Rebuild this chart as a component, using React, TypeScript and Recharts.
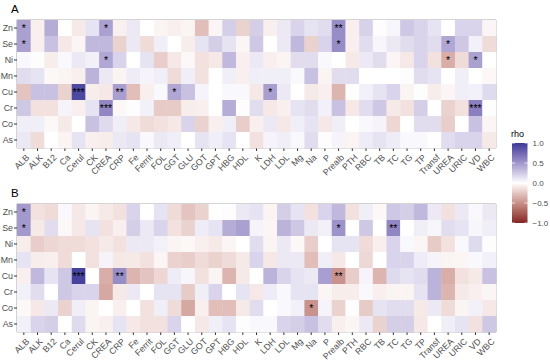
import React from 'react';
import { ScatterChart, Scatter, XAxis, YAxis, ReferenceArea } from 'recharts';

const metals = ['Zn', 'Se', 'Ni', 'Mn', 'Cu', 'Cr', 'Co', 'As'];
const markers = [
  'ALB', 'ALK', 'B12', 'Ca', 'Cerul', 'CK', 'CREA', 'CRP', 'Fe', 'Ferrit', 'FOL', 'GGT',
  'GLU', 'GOT', 'GPT', 'HBG', 'HDL', 'K', 'LDH', 'LDL', 'Mg', 'Na', 'P', 'Prealb', 'PTH',
  'RBC', 'TB', 'TC', 'TG', 'TP', 'Transf', 'UREA', 'URIC', 'VD', 'WBC',
];

// panel A, one row per metal, in marker order
const rhoA = [
  [0.45, -0.07, 0.39, 0, -0.09, 0.13, 0.45, -0.07, 0.1, 0, -0.05, -0.07, -0.05, -0.29, -0.04, 0.23, -0.2, 0.23, -0.07, 0.1, 0.2, 0.13, 0.16, 0.55, -0.07, 0.21, 0.01, 0.04, 0.26, 0.2, 0.13, 0, 0.2, 0.2, -0.04],
  [0.45, -0.07, 0.29, -0.1, -0.04, 0.33, 0.33, -0.2, 0.1, -0.16, 0.08, 0, -0.08, 0.13, 0.23, 0.13, -0.04, 0.26, 0, 0.1, 0.33, -0.2, 0.2, 0.55, -0.07, 0.16, 0.04, 0.1, 0.16, 0.2, 0.16, 0.42, 0.26, 0.07, -0.16],
  [0.03, 0.01, -0.08, 0.03, 0.1, 0.07, 0.42, 0.2, 0, 0.13, -0.22, -0.1, -0.03, -0.13, -0.1, 0.33, -0.07, 0.1, -0.07, -0.05, 0.16, 0.16, 0.03, 0, -0.09, 0.1, 0.16, -0.04, -0.1, 0.2, -0.13, -0.36, -0.16, 0.45, 0],
  [0.16, 0.13, -0.03, -0.05, -0.07, 0.36, 0.1, -0.05, 0.09, 0.05, 0.08, -0.16, 0.08, -0.13, 0, 0.08, -0.07, 0.08, 0.08, 0.08, 0.03, 0.29, -0.05, 0.16, 0.16, 0, 0, 0, 0.01, 0.16, 0.13, 0, 0.08, 0, -0.03],
  [-0.26, 0.29, 0.29, -0.2, 0.92, -0.08, -0.1, 0.46, -0.29, -0.07, 0.03, 0.42, 0.29, 0.05, 0, 0.03, 0.03, -0.1, 0.46, 0.1, 0, -0.09, -0.07, -0.33, 0.01, 0.07, 0.13, 0.2, -0.05, 0.01, -0.08, -0.04, 0.08, 0.07, 0.17],
  [0.26, -0.13, -0.13, 0.05, -0.07, 0.13, 0.58, -0.03, 0.01, 0.07, -0.23, -0.23, -0.08, -0.07, 0, 0.39, 0.01, 0.16, -0.1, -0.07, 0.13, 0.16, 0.07, 0.29, -0.1, 0.16, 0.26, -0.09, -0.13, 0.23, 0, -0.2, -0.13, 0.62, 0.01],
  [0.08, 0.08, -0.03, -0.09, 0, 0.29, 0.17, 0.08, -0.1, -0.16, -0.13, -0.1, 0.2, -0.2, -0.07, 0.08, -0.22, -0.07, 0.1, -0.1, 0.08, 0.13, -0.1, 0.08, 0, 0.03, 0.05, -0.18, 0, 0.16, 0.16, -0.22, 0, 0.29, -0.04],
  [0.1, -0.16, 0, -0.05, 0.13, -0.07, -0.08, 0.1, 0.13, 0.03, 0.1, 0.08, 0, 0.13, 0.08, 0.13, 0, -0.13, 0.05, 0.08, 0.03, 0.16, 0.01, 0.05, -0.05, 0.09, 0.13, 0.09, 0.03, 0.03, 0, 0.16, 0.2, 0.2, -0.09],
];

// panel B
const rhoB = [
  [0.49, -0.13, -0.16, 0.03, -0.1, -0.05, -0.09, -0.13, 0.2, 0, 0.13, -0.16, -0.26, -0.2, 0, 0.01, 0.1, 0.13, -0.05, 0.23, 0.13, -0.13, 0.2, 0.33, -0.13, 0.08, -0.03, 0.26, 0.23, 0.33, 0.1, -0.13, 0.1, 0.03, 0.1],
  [0.49, -0.09, 0.16, -0.03, -0.1, 0.13, -0.13, -0.07, 0.23, 0.1, 0.2, -0.13, -0.2, 0.09, 0.13, 0.39, 0.45, 0.05, -0.04, 0.36, 0.26, 0.1, 0.07, 0.52, 0, 0.26, 0, 0.58, 0, 0.08, 0.04, 0.16, 0.13, 0.04, 0.08],
  [-0.08, -0.22, -0.18, -0.16, -0.16, -0.13, -0.09, -0.13, 0.1, 0.1, 0.07, -0.05, -0.03, -0.07, -0.09, -0.04, 0, 0.16, -0.05, 0.1, -0.03, -0.22, 0, 0.13, 0.13, -0.16, -0.07, 0.2, 0.03, -0.04, -0.23, -0.13, 0.03, 0.17, 0.01],
  [0.13, -0.08, -0.07, -0.16, 0, -0.13, 0.05, -0.1, -0.09, -0.13, -0.04, -0.2, -0.22, -0.16, -0.2, -0.16, -0.09, 0.2, -0.1, 0.1, 0.1, -0.29, 0.08, -0.1, 0, -0.17, 0, 0.2, 0.2, 0.09, 0.05, -0.05, -0.04, 0.03, 0.07],
  [-0.07, 0.33, 0.13, 0.26, 0.95, 0, -0.36, 0.55, -0.33, -0.26, -0.18, 0.09, 0.04, -0.13, -0.05, -0.33, -0.09, 0, 0.36, 0.2, 0.13, 0.1, 0.46, -0.49, -0.22, 0.05, -0.33, 0.17, 0.13, 0.16, 0.36, -0.36, -0.13, -0.09, 0.29],
  [0.07, 0.16, 0, 0.26, 0.2, 0.2, -0.39, -0.09, 0.1, 0, 0.13, 0.13, -0.23, 0.08, 0.2, 0, 0.13, -0.1, 0.09, 0.03, 0.13, 0.13, -0.04, -0.08, -0.08, 0.03, -0.07, -0.05, -0.05, 0.13, 0.36, -0.33, -0.09, -0.07, -0.04],
  [-0.03, -0.1, 0.1, -0.2, 0.08, -0.05, 0, -0.07, 0, -0.13, 0.08, -0.16, -0.39, -0.07, -0.29, -0.29, -0.09, 0.16, 0, 0.03, 0.07, -0.49, 0.05, -0.2, 0.01, -0.23, 0.13, 0.16, 0.16, -0.09, 0.1, -0.16, -0.05, 0.07, -0.1],
  [0.07, 0.2, 0.23, 0, 0.17, -0.05, -0.07, 0.13, -0.1, -0.13, -0.13, 0.2, 0, -0.1, 0.08, 0.13, 0.01, 0.03, 0.03, 0.2, 0.23, 0.29, 0.16, -0.07, -0.04, 0.1, -0.2, 0.23, 0.23, -0.1, 0, 0.08, 0.13, -0.13, 0.26],
];

const starsA = [
  ['Zn', 'ALB', '*'], ['Zn', 'CREA', '*'], ['Zn', 'Prealb', '**'],
  ['Se', 'ALB', '*'], ['Se', 'Prealb', '*'], ['Se', 'UREA', '*'],
  ['Ni', 'CREA', '*'], ['Ni', 'UREA', '*'], ['Ni', 'VD', '*'],
  ['Cu', 'Cerul', '***'], ['Cu', 'CRP', '**'], ['Cu', 'GGT', '*'], ['Cu', 'LDH', '*'],
  ['Cr', 'CREA', '***'], ['Cr', 'VD', '***'],
];
const starsB = [
  ['Zn', 'ALB', '*'], ['Se', 'ALB', '*'], ['Se', 'Prealb', '*'], ['Se', 'TC', '**'],
  ['Cu', 'Cerul', '***'], ['Cu', 'CRP', '**'], ['Cu', 'Prealb', '**'], ['Co', 'Na', '*'],
];

const legendTicks = [1, 0.5, 0, -0.5, -1];

// scale_fill_gradient2 defaults: muted red / white / muted blue, Lab interpolation
const LOW = '#832424';
const MID = '#FFFFFF';
const HIGH = '#3A3A98';

function toLab(hex: string) {
  const c = [1, 3, 5]
    .map((i) => parseInt(hex.slice(i, i + 2), 16) / 255)
    .map((v) => (v <= 0.04045 ? v / 12.92 : Math.pow((v + 0.055) / 1.055, 2.4)));
  const X = (c[0] * 0.4124 + c[1] * 0.3576 + c[2] * 0.1805) / 0.95047;
  const Y = c[0] * 0.2126 + c[1] * 0.7152 + c[2] * 0.0722;
  const Z = (c[0] * 0.0193 + c[1] * 0.1192 + c[2] * 0.9505) / 1.08883;
  const f = (t: number) => (t > 0.008856 ? Math.cbrt(t) : 7.787 * t + 16 / 116);
  return [116 * f(Y) - 16, 500 * (f(X) - f(Y)), 200 * (f(Y) - f(Z))];
}

function fromLab(L: number, a: number, b: number) {
  const fy = (L + 16) / 116;
  const fx = fy + a / 500;
  const fz = fy - b / 200;
  const inv = (t: number) => (t * t * t > 0.008856 ? t * t * t : (t - 16 / 116) / 7.787);
  const X = inv(fx) * 0.95047;
  const Y = inv(fy);
  const Z = inv(fz) * 1.08883;
  const lin = [
    X * 3.2406 - Y * 1.5372 - Z * 0.4986,
    -X * 0.9689 + Y * 1.8758 + Z * 0.0415,
    X * 0.0557 - Y * 0.204 + Z * 1.057,
  ];
  const enc = lin.map((v) => {
    const u = Math.max(0, Math.min(1, v));
    const s = u <= 0.0031308 ? 12.92 * u : 1.055 * Math.pow(u, 1 / 2.4) - 0.055;
    return Math.round(s * 255);
  });
  return `rgb(${enc[0]},${enc[1]},${enc[2]})`;
}

const labLow = toLab(LOW);
const labMid = toLab(MID);
const labHigh = toLab(HIGH);

function rhoColor(v: number) {
  const t = Math.min(1, Math.abs(v));
  const end = v < 0 ? labLow : labHigh;
  return fromLab(
    labMid[0] + (end[0] - labMid[0]) * t,
    labMid[1] + (end[1] - labMid[1]) * t,
    labMid[2] + (end[2] - labMid[2]) * t
  );
}

const W = 550;
const H = 180;
const MARGIN = { top: 20, right: 54, left: 0, bottom: 0 };
const Y_AXIS_W = 17;
const X_AXIS_H = 32;
const PLOT_W = W - MARGIN.right - MARGIN.left - Y_AXIS_W;
const PLOT_H = H - MARGIN.top - X_AXIS_H;
const CELL_W = PLOT_W / markers.length;
const CELL_H = PLOT_H / metals.length;

const FONT = '"Liberation Sans", Arial, sans-serif';
const TICK_COLOR = '#4D4D4D';

function buildCells(rho: number[][], stars: string[][]) {
  const cells: { x: number; y: number; rho: number; star: string }[] = [];
  metals.forEach((m, yi) => {
    markers.forEach((k, xi) => {
      const s = stars.find((r) => r[0] === m && r[1] === k);
      cells.push({ x: xi, y: yi, rho: rho[yi][xi], star: s ? s[2] : '' });
    });
  });
  return cells;
}

const Tile = (props: any) => {
  const { cx, cy, payload } = props;
  return (
    <g>
      <rect
        x={cx - CELL_W / 2}
        y={cy - CELL_H / 2}
        width={CELL_W + 0.4}
        height={CELL_H + 0.4}
        fill={rhoColor(payload.rho)}
      />
      {payload.star && (
        <text x={cx} y={cy + 3.5} textAnchor="middle" fontSize={10.5} fill="#000" fontFamily={FONT}>
          {payload.star}
        </text>
      )}
    </g>
  );
};

const XTick = ({ x, y, payload }: any) => {
  const ax = x + 6;
  const ay = y + 5;
  return (
    <text
      x={ax}
      y={ay}
      transform={`rotate(-45 ${ax} ${ay})`}
      textAnchor="end"
      fontSize={8.8}
      fill={TICK_COLOR}
      fontFamily={FONT}
    >
      {markers[payload.value]}
    </text>
  );
};

function Panel({ label, rho, stars, top }: { label: string; rho: number[][]; stars: string[][]; top: number }) {
  const cells = buildCells(rho, stars);
  return (
    <div style={{ position: 'absolute', left: 0, top, width: W, height: H }}>
      <div
        style={{
          position: 'absolute',
          left: 11,
          top: 3,
          fontFamily: FONT,
          fontSize: 11.5,
          color: '#000',
          lineHeight: '12px',
        }}
      >
        {label}
      </div>
      <ScatterChart width={W} height={H} margin={MARGIN}>
        <XAxis
          type="number"
          dataKey="x"
          domain={[-0.5, markers.length - 0.5]}
          ticks={markers.map((_, i) => i)}
          interval={0}
          height={X_AXIS_H}
          axisLine={false}
          tickLine={{ stroke: '#333333' }}
          tickSize={3}
          tick={<XTick />}
        />
        <YAxis
          type="number"
          dataKey="y"
          domain={[-0.5, metals.length - 0.5]}
          ticks={metals.map((_, i) => i)}
          interval={0}
          reversed
          width={Y_AXIS_W}
          axisLine={false}
          tickLine={{ stroke: '#333333' }}
          tickSize={3}
          tickMargin={1}
          tickFormatter={(v: number) => metals[v]}
          tick={{ fontSize: 8.8, fill: TICK_COLOR, fontFamily: FONT }}
        />
        <Scatter data={cells} shape={<Tile />} isAnimationActive={false} />
        <ReferenceArea
          x1={-0.5}
          x2={markers.length - 0.5}
          y1={-0.5}
          y2={metals.length - 0.5}
          fill="none"
          fillOpacity={0}
          stroke="#A6A6A6"
          strokeWidth={1}
        />
      </ScatterChart>
    </div>
  );
}

function ColorBar() {
  const barTop = 143;
  const barH = 80;
  const barX = 512;
  const barW = 15.5;
  const stops = Array.from({ length: 21 }, (_, i) => 1 - i / 10);
  return (
    <svg width={W} height={360} style={{ position: 'absolute', left: 0, top: 0, pointerEvents: 'none' }}>
      <defs>
        <linearGradient id="rhoGrad" x1="0" y1="0" x2="0" y2="1">
          {stops.map((v, i) => (
            <stop key={i} offset={`${((1 - v) / 2) * 100}%`} stopColor={rhoColor(v)} />
          ))}
        </linearGradient>
      </defs>
      <text x={barX - 1} y={barTop - 6} fontSize={9} fill="#000" fontFamily={FONT}>
        rho
      </text>
      <rect x={barX} y={barTop} width={barW} height={barH} fill="url(#rhoGrad)" />
      {legendTicks.map((v) => {
        const ty = barTop + ((1 - v) / 2) * barH;
        return (
          <g key={v}>
            <line x1={barX} x2={barX + 3} y1={ty} y2={ty} stroke="#fff" strokeWidth={0.8} />
            <line x1={barX + barW - 3} x2={barX + barW} y1={ty} y2={ty} stroke="#fff" strokeWidth={0.8} />
            <text x={barX + barW + 5} y={ty + 3} fontSize={8} fill={TICK_COLOR} fontFamily={FONT}>
              {v < 0 ? `\u2212${Math.abs(v).toFixed(1)}` : v.toFixed(1)}
            </text>
          </g>
        );
      })}
    </svg>
  );
}

export default function App() {
  return (
    <div style={{ position: 'absolute', left: 0, top: 0, width: W, height: 360, background: '#fff', fontFamily: FONT }}>
      <Panel label="A" rho={rhoA} stars={starsA} top={0} />
      <Panel label="B" rho={rhoB} stars={starsB} top={184} />
      <ColorBar />
    </div>
  );
}
